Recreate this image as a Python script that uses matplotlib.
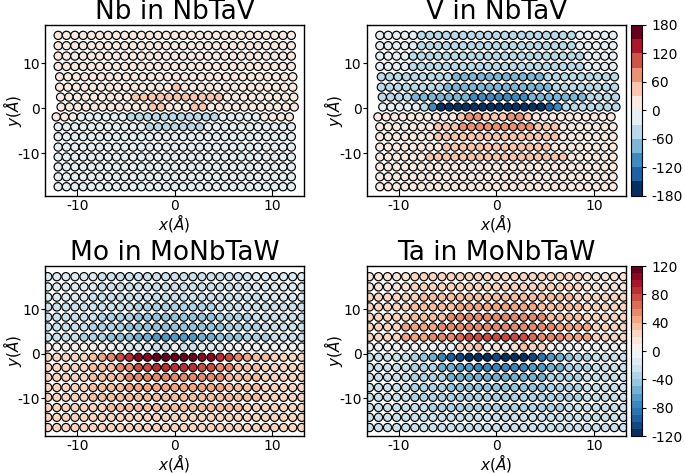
import numpy as np
import matplotlib
matplotlib.use("Agg")
import matplotlib.pyplot as plt

plt.rcParams["axes.unicode_minus"] = False

# atom column positions along x (Angstrom)
x_top = [-11.95, -11.10, -10.24, -9.39, -8.54, -7.69, -6.83, -5.98, -5.13, -4.27,
         -3.42, -2.57, -1.71, -0.86, 0.00, 0.86, 1.71, 2.57, 3.42, 4.27,
         5.13, 5.98, 6.83, 7.69, 8.54, 9.39, 10.24, 11.10, 11.95]
x_bottom = [-13.02, -12.09, -11.16, -10.23, -9.30, -8.37, -7.44, -6.51, -5.58, -4.65,
            -3.72, -2.79, -1.86, -0.93, 0.00, 0.93, 1.86, 2.79, 3.72, 4.65,
            5.58, 6.51, 7.44, 8.37, 9.30, 10.23, 11.16, 12.09, 13.02]

# atom row positions along y (Angstrom)
y_top = [16.2, 13.9, 11.6, 9.3, 7.0, 4.7, 2.5, 0.3, -1.9, -4.1, -6.3, -8.6, -10.8, -13.0, -15.2, -17.4]
y_bottom = [17.3, 15.0, 12.7, 10.5, 8.2, 6.0, 3.7, 1.5, -0.8, -3.1, -5.3, -7.6, -9.8, -12.1, -14.3, -16.6]

# sideways shift of the rows next to the core
shift_top = [0, 0, 0, 0, 0.15, 0.15, 0.25, 0.3, -0.2, 0, 0, 0, 0, 0, 0, 0]
shift_bottom = [0, 0, 0, 0, 0, 0, 0, 0, 0, 0, 0, 0, 0, 0, 0, 0]

# Nb in NbTaV
nb_nbtav = [
    [15, 15, 15, 15, 15, 15, 15, 15, 15, 15, 15, 15, 15, 15, 15, 15, 15, 15, 15, 15, 15, 15, 15, 15, 15, 15, 15, 15, 15],
    [15, 15, 15, 15, 15, 15, 15, 15, 15, 15, 15, 15, 15, 15, 15, 15, 15, 15, 15, 15, 15, 15, 15, 15, 15, 15, 15, 15, 15],
    [15, 15, 15, 15, 15, 15, 15, 15, 15, 15, 15, 15, 15, 15, 15, 15, 15, 15, 15, 15, 15, 15, 15, 15, 15, 15, 15, 15, 15],
    [15, 15, 15, 15, 15, 15, 15, 15, 15, 15, 15, 15, 15, 15, 15, 15, 15, 15, 15, 15, 15, 15, 15, 15, 15, 15, 15, 15, 15],
    [15, 15, 15, 15, 15, 15, 15, 15, 15, 15, 15, 15, 15, 15, 15, 15, 15, 15, 15, 15, 15, 15, 15, 15, 15, 15, 15, 15, 15],
    [15, 15, 15, 15, 15, 15, 15, 15, 15, 15, 15, 15, 15, 15, 35, 15, 15, 15, 15, 15, 15, 15, 15, 15, 15, 15, 15, 15, 15],
    [15, 15, 15, 15, 15, 15, 15, 15, 15, 40, 35, 40, 45, 45, 45, 45, 40, 40, 45, 40, 15, 15, 15, 15, 15, 15, 15, 15, 15],
    [15, 15, 15, 15, 15, 15, 15, 15, 15, 15, 15, 45, 45, 15, 15, 15, 45, 45, 15, 15, 15, 15, 15, 15, 15, 15, 15, 15, 15],
    [10, 10, 10, -15, -15, -15, -15, -15, -15, -35, -45, -40, -45, -40, -45, -40, -45, -40, -45, -35, -15, -15, -15, -15, -15, 10, 10, 10, 10],
    [-15, -15, -15, -15, -15, -15, -15, -15, -15, -15, -15, -35, -40, -40, -40, -40, -40, -35, -15, -15, -15, -15, -15, -15, -15, -15, -15, -15, -15],
    [-15, -15, -15, -15, -15, -15, -15, -15, -15, -15, -15, -15, -15, -15, -15, -15, -15, -15, -15, -15, -15, -15, -15, -15, -15, -15, -15, -15, -15],
    [-15, -15, -15, -15, -15, -15, -15, -15, -15, -15, -15, -15, -15, -15, -15, -15, -15, -15, -15, -15, -15, -15, -15, -15, -15, -15, -15, -15, -15],
    [-15, -15, -15, -15, -15, -15, -15, -15, -15, -15, -15, -15, -15, -15, -15, -15, -15, -15, -15, -15, -15, -15, -15, -15, -15, -15, -15, -15, -15],
    [-15, -15, -15, -15, -15, -15, -15, -15, -15, -15, -15, -15, -15, -15, -15, -15, -15, -15, -15, -15, -15, -15, -15, -15, -15, -15, -15, -15, -15],
    [-15, -15, -15, -15, -15, -15, -15, -15, -15, -15, -15, -15, -15, -15, -15, -15, -15, -15, -15, -15, -15, -15, -15, -15, -15, -15, -15, -15, -15],
    [-15, -15, -15, -15, -15, -15, -15, -15, -15, -15, -15, -15, -15, -15, -15, -15, -15, -15, -15, -15, -15, -15, -15, -15, -15, -15, -15, -15, -15],
]

# V in NbTaV
v_nbtav = [
    [-25, -25, -25, -25, -25, -35, -35, -35, -35, -35, -35, -35, -35, -35, -35, -35, -35, -35, -35, -35, -35, -35, -35, -35, -25, -25, -25, -25, -25],
    [-25, -25, -25, -25, -25, -35, -35, -35, -35, -35, -35, -35, -35, -35, -35, -35, -35, -35, -35, -35, -35, -35, -35, -35, -25, -25, -25, -25, -25],
    [-25, -25, -25, -25, -40, -40, -40, -40, -40, -40, -40, -40, -40, -40, -40, -40, -40, -40, -40, -40, -40, -40, -40, -40, -40, -25, -25, -25, -25],
    [-30, -30, -30, -30, -45, -45, -45, -45, -45, -45, -45, -45, -45, -45, -45, -45, -45, -45, -45, -45, -45, -45, -45, -45, -45, -30, -30, -30, -30],
    [-35, -35, -35, -35, -45, -45, -45, -45, -45, -65, -65, -65, -65, -65, -65, -65, -65, -65, -65, -65, -45, -45, -45, -45, -45, -35, -35, -35, -35],
    [-40, -40, -40, -40, -50, -50, -50, -50, -70, -70, -70, -70, -70, -70, -70, -70, -70, -70, -70, -70, -70, -50, -50, -50, -50, -40, -40, -40, -40],
    [-45, -45, -45, -45, -65, -65, -65, -65, -75, -75, -75, -100, -100, -100, -100, -100, -100, -100, -75, -75, -75, -65, -65, -65, -65, -45, -45, -45, -45],
    [-30, -30, -30, -30, -30, -45, -120, -165, -165, -165, -165, -165, -165, -165, -165, -165, -165, -165, -165, -165, -135, -100, -35, -35, -35, -35, -35, -35, -35],
    [15, 15, 15, 15, 15, 15, 15, 15, 15, 25, 45, 75, 75, 45, 40, 45, 75, 70, 45, 25, 15, 15, 15, 15, 15, 15, 15, 15, 15],
    [15, 15, 15, 15, 25, 25, 25, 45, 45, 45, 70, 70, 75, 70, 70, 75, 70, 70, 70, 45, 45, 45, 25, 25, 25, 15, 15, 15, 15],
    [15, 15, 15, 15, 25, 25, 25, 45, 45, 45, 45, 45, 45, 45, 45, 45, 45, 45, 45, 45, 45, 45, 25, 25, 25, 15, 15, 15, 15],
    [15, 15, 15, 15, 15, 25, 25, 25, 40, 40, 40, 40, 40, 40, 40, 40, 40, 40, 40, 40, 40, 25, 25, 25, 15, 15, 15, 15, 15],
    [15, 15, 15, 15, 15, 15, 35, 35, 35, 35, 35, 35, 35, 35, 35, 35, 35, 35, 35, 35, 35, 35, 35, 15, 15, 15, 15, 15, 15],
    [15, 15, 15, 15, 15, 15, 25, 25, 25, 25, 25, 25, 25, 25, 25, 25, 25, 25, 25, 25, 25, 25, 25, 15, 15, 15, 15, 15, 15],
    [15, 15, 15, 15, 15, 15, 15, 15, 15, 15, 15, 15, 15, 15, 15, 15, 15, 15, 15, 15, 15, 15, 15, 15, 15, 15, 15, 15, 15],
    [15, 15, 15, 15, 15, 15, 15, 15, 15, 15, 15, 15, 15, 15, 15, 15, 15, 15, 15, 15, 15, 15, 15, 15, 15, 15, 15, 15, 15],
]

# Mo in MoNbTaW
mo_monbtaw = [
    [-15, -15, -15, -15, -15, -15, -25, -25, -25, -25, -25, -25, -25, -25, -25, -25, -25, -25, -25, -25, -25, -25, -25, -15, -15, -15, -15, -15, -15],
    [-15, -15, -15, -15, -15, -15, -25, -25, -25, -25, -25, -25, -25, -25, -25, -25, -25, -25, -25, -25, -25, -25, -25, -15, -15, -15, -15, -15, -15],
    [-15, -15, -15, -15, -15, -25, -25, -25, -25, -25, -25, -25, -25, -25, -25, -25, -25, -25, -25, -25, -25, -25, -25, -25, -15, -15, -15, -15, -15],
    [-25, -25, -25, -25, -25, -25, -25, -25, -25, -25, -35, -35, -35, -35, -35, -35, -35, -35, -35, -25, -25, -25, -25, -25, -25, -25, -25, -25, -25],
    [-25, -25, -25, -25, -25, -25, -35, -35, -35, -35, -45, -45, -45, -45, -45, -45, -45, -45, -45, -35, -35, -35, -35, -25, -25, -25, -25, -25, -25],
    [-25, -25, -25, -25, -25, -35, -35, -35, -35, -50, -50, -50, -50, -50, -50, -50, -50, -50, -50, -50, -35, -35, -35, -35, -25, -25, -25, -25, -25],
    [-25, -25, -25, -25, -35, -35, -35, -50, -50, -50, -60, -60, -65, -65, -65, -65, -65, -60, -60, -50, -50, -50, -35, -35, -35, -25, -25, -25, -25],
    [8, 8, 8, 8, 8, 8, -5, -5, -5, -15, -15, -15, -25, -25, -5, -25, -25, -15, -15, -15, -8, -8, -8, -8, -8, -8, -8, -8, -8],
    [20, 20, 20, 25, 25, 35, 40, 50, 70, 85, 100, 105, 110, 115, 118, 115, 110, 105, 100, 85, 70, 55, 45, 35, 30, 25, 25, 20, 20],
    [25, 25, 25, 25, 25, 35, 35, 35, 50, 50, 70, 70, 80, 80, 80, 80, 80, 70, 70, 50, 50, 35, 35, 35, 25, 25, 25, 25, 25],
    [25, 25, 25, 25, 25, 35, 35, 35, 35, 55, 55, 55, 55, 55, 55, 55, 55, 55, 55, 55, 35, 35, 35, 35, 25, 25, 25, 25, 25],
    [25, 25, 25, 25, 25, 35, 35, 35, 35, 45, 45, 45, 45, 45, 45, 45, 45, 45, 45, 45, 35, 35, 35, 35, 25, 25, 25, 25, 25],
    [25, 25, 25, 25, 25, 35, 35, 35, 35, 35, 35, 35, 35, 35, 35, 35, 35, 35, 35, 35, 35, 35, 35, 35, 25, 25, 25, 25, 25],
    [25, 25, 25, 25, 25, 25, 25, 35, 35, 35, 35, 35, 35, 35, 35, 35, 35, 35, 35, 35, 35, 35, 25, 25, 25, 25, 25, 25, 25],
    [25, 25, 25, 25, 25, 25, 25, 25, 25, 25, 25, 25, 25, 25, 25, 25, 25, 25, 25, 25, 25, 25, 25, 25, 25, 25, 25, 25, 25],
    [25, 25, 25, 25, 25, 25, 25, 25, 25, 25, 25, 25, 25, 25, 25, 25, 25, 25, 25, 25, 25, 25, 25, 25, 25, 25, 25, 25, 25],
]

# Ta in MoNbTaW
ta_monbtaw = [
    [15, 15, 15, 15, 15, 25, 25, 25, 25, 25, 25, 25, 25, 25, 25, 25, 25, 25, 25, 25, 25, 25, 25, 25, 15, 15, 15, 15, 15],
    [15, 15, 15, 15, 15, 25, 25, 25, 25, 25, 25, 25, 25, 25, 25, 25, 25, 25, 25, 25, 25, 25, 25, 25, 15, 15, 15, 15, 15],
    [25, 25, 25, 25, 25, 25, 35, 35, 35, 35, 35, 35, 35, 35, 35, 35, 35, 35, 35, 35, 35, 35, 35, 25, 25, 25, 25, 25, 25],
    [25, 25, 25, 25, 25, 35, 35, 35, 35, 35, 45, 45, 45, 45, 45, 45, 45, 45, 45, 35, 35, 35, 35, 35, 25, 25, 25, 25, 25],
    [25, 25, 25, 25, 25, 35, 35, 35, 35, 50, 50, 50, 50, 50, 50, 50, 50, 50, 50, 50, 35, 35, 35, 35, 25, 25, 25, 25, 25],
    [25, 25, 25, 25, 40, 40, 40, 40, 55, 55, 55, 55, 55, 55, 55, 55, 55, 55, 55, 55, 55, 40, 40, 40, 40, 25, 25, 25, 25],
    [25, 25, 25, 25, 40, 40, 40, 55, 55, 55, 65, 70, 70, 70, 70, 70, 70, 70, 65, 55, 55, 55, 40, 40, 40, 25, 25, 25, 25],
    [-10, -10, -10, -10, -10, -10, -10, -5, -5, -5, 25, 25, 35, 5, 15, 2, 15, 35, 25, 20, 5, -10, -10, -10, -10, -10, -10, -10, -10],
    [-25, -25, -25, -25, -30, -40, -45, -55, -75, -95, -105, -115, -115, -115, -110, -112, -115, -115, -105, -90, -70, -55, -45, -40, -35, -25, -25, -25, -25],
    [-25, -25, -25, -25, -25, -40, -40, -40, -55, -55, -70, -70, -80, -80, -80, -80, -80, -80, -70, -70, -55, -55, -40, -40, -40, -25, -25, -25, -25],
    [-25, -25, -25, -25, -25, -35, -35, -35, -35, -55, -55, -55, -55, -55, -55, -55, -55, -55, -55, -55, -35, -35, -35, -35, -25, -25, -25, -25, -25],
    [-25, -25, -25, -25, -25, -35, -35, -35, -35, -45, -45, -45, -45, -45, -45, -45, -45, -45, -45, -45, -35, -35, -35, -35, -25, -25, -25, -25, -25],
    [-25, -25, -25, -25, -25, -35, -35, -35, -35, -35, -35, -35, -35, -35, -35, -35, -35, -35, -35, -35, -35, -35, -35, -35, -25, -25, -25, -25, -25],
    [-25, -25, -25, -25, -25, -25, -25, -35, -35, -35, -35, -35, -35, -35, -35, -35, -35, -35, -35, -35, -35, -35, -25, -25, -25, -25, -25, -25, -25],
    [-25, -25, -25, -25, -25, -25, -25, -25, -25, -25, -25, -25, -25, -25, -25, -25, -25, -25, -25, -25, -25, -25, -25, -25, -25, -25, -25, -25, -25],
    [-25, -25, -25, -25, -25, -25, -25, -25, -25, -25, -25, -25, -25, -25, -25, -25, -25, -25, -25, -25, -25, -25, -25, -25, -25, -25, -25, -25, -25],
]

titles = ["Nb in NbTaV", "V in NbTaV", "Mo in MoNbTaW", "Ta in MoNbTaW"]
ticks_top = [-180, -120, -60, 0, 60, 120, 180]
ticks_bottom = [-120, -80, -40, 0, 40, 80, 120]


def draw_panel(ax, xs, ys, shifts, vals, cmap, lim):
    px, py, pv = [], [], []
    for i, row in enumerate(vals):
        for j, v in enumerate(row):
            px.append(xs[j] + shifts[i])
            py.append(ys[i])
            pv.append(v)
    sc = ax.scatter(px, py, c=pv, cmap=cmap, vmin=-lim, vmax=lim, s=35,
                    edgecolors="black", linewidths=0.85, zorder=2)
    return sc


fig = plt.figure(figsize=(6.85, 4.73), dpi=100)

W = 259 / 685
positions = [
    [45 / 685, 1 - 195.7 / 473, W, 170.7 / 473],
    [366.7 / 685, 1 - 195.7 / 473, W, 170.7 / 473],
    [45 / 685, 1 - 436 / 473, W, 170 / 473],
    [366.7 / 685, 1 - 436 / 473, W, 170 / 473],
]
cmap_top = plt.get_cmap("RdBu_r", 12)
cmap_bottom = plt.get_cmap("RdBu_r", 24)

panels = [
    (x_top, y_top, shift_top, nb_nbtav, cmap_top, 180, (-19.4, 18.5)),
    (x_top, y_top, shift_top, v_nbtav, cmap_top, 180, (-19.4, 18.5)),
    (x_bottom, y_bottom, shift_bottom, mo_monbtaw, cmap_bottom, 120, (-18.5, 19.7)),
    (x_bottom, y_bottom, shift_bottom, ta_monbtaw, cmap_bottom, 120, (-18.5, 19.7)),
]

for k, (xs, ys, sh, vals, cm, lim, ylim) in enumerate(panels):
    ax = fig.add_axes(positions[k])
    sc = draw_panel(ax, xs, ys, sh, vals, cm, lim)
    ax.set_xlim(-13.3, 13.25)
    ax.set_ylim(*ylim)
    ax.set_xticks([-10, 0, 10])
    ax.set_yticks([-10, 0, 10])
    ax.tick_params(axis="x", direction="in", length=5, labelsize=10, pad=2.5)
    ax.tick_params(axis="y", direction="out", length=3, labelsize=10, pad=0.8)
    ax.set_title(titles[k], fontsize=19, pad=3.5)
    ax.set_xlabel(r"$x(\AA)$", fontsize=11)
    ax.set_ylabel(r"$y(\AA)$", fontsize=11)
    ax.xaxis.set_label_coords(0.5, -0.095)
    ax.yaxis.set_label_coords(-0.082, 0.5)
    for sp in ax.spines.values():
        sp.set_linewidth(1.0)
    if k in (1, 3):
        p = positions[k]
        cax = fig.add_axes([631 / 685, p[1], 11.3 / 685, p[3]])
        cb = fig.colorbar(sc, cax=cax, ticks=ticks_top if k == 1 else ticks_bottom)
        cb.ax.tick_params(labelsize=10, length=3)

fig.savefig("out.png", dpi=100)
